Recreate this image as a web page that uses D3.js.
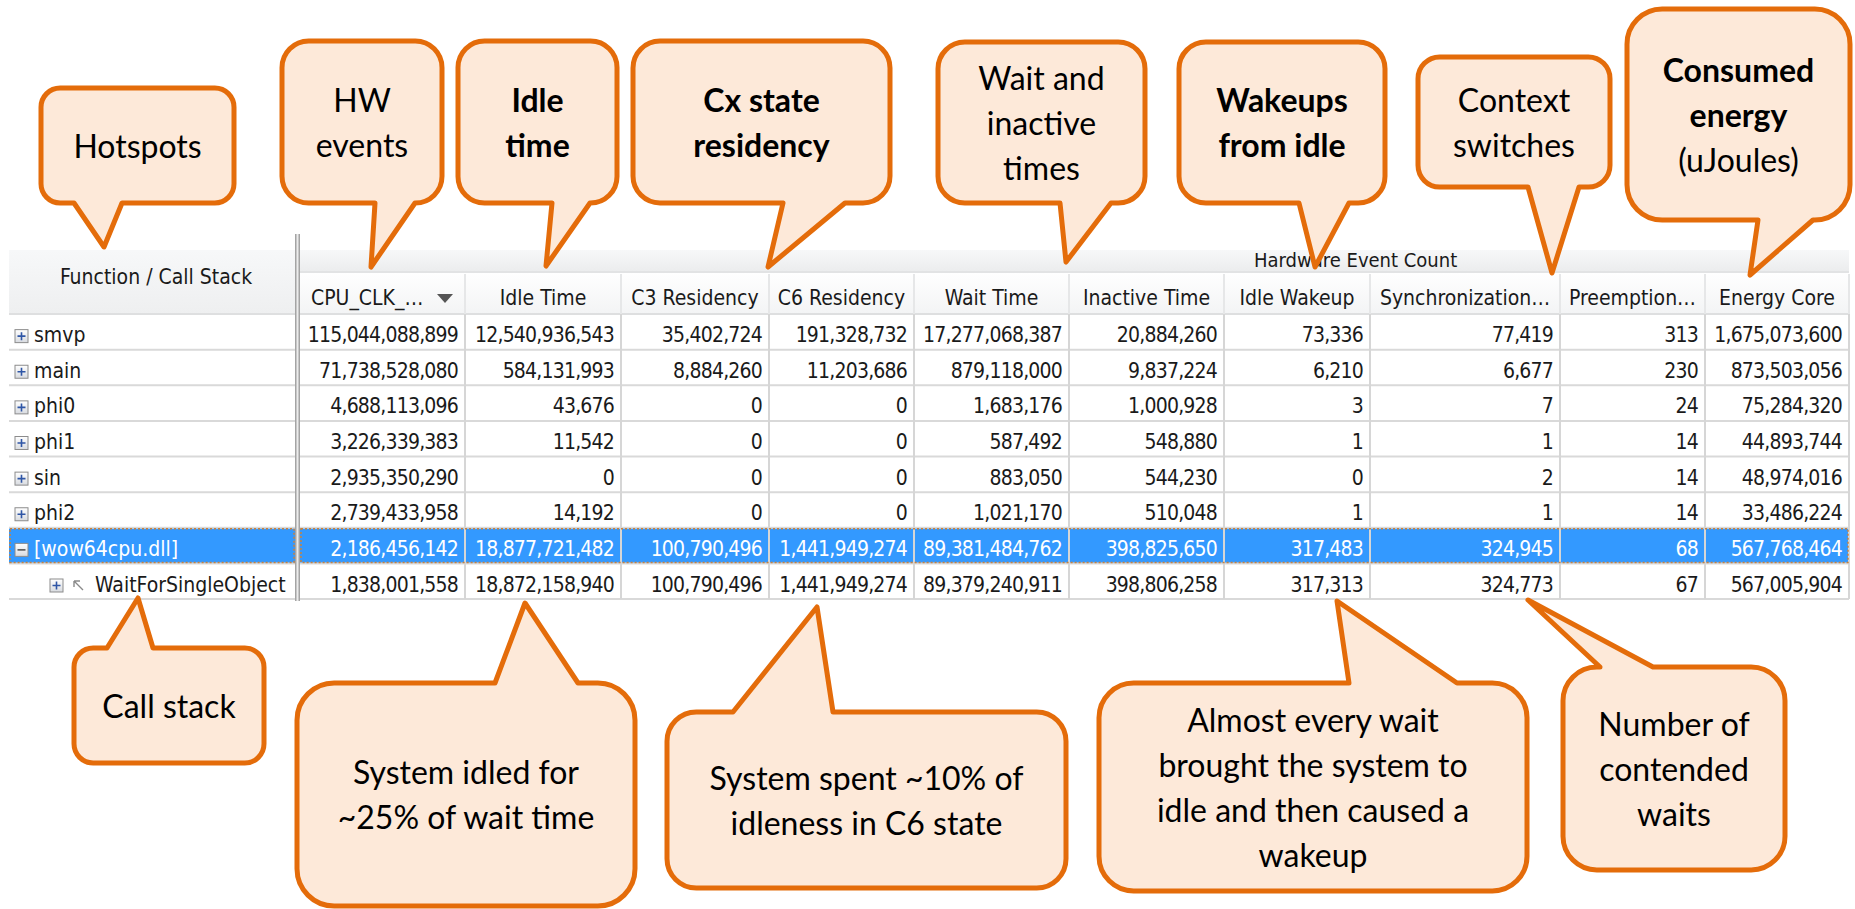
<!DOCTYPE html>
<html>
<head>
<meta charset="utf-8">
<script src="https://cdn.jsdelivr.net/npm/d3@7"></script>
<style>
    body { margin: 0; background: #fff; }
    svg { display: block; }
    .tbl { font-family: "DejaVu Sans Condensed", "DejaVu Sans", sans-serif; font-stretch: condensed; }
    .note { font-family: Lato, "Open Sans", sans-serif; }
</style>
</head>
<body>
<svg id="chart" width="1855" height="909"></svg>
<script>
// ---- data ----
const functions = ["smvp", "main", "phi0", "phi1", "sin", "phi2", "[wow64cpu.dll]", "WaitForSingleObject"];
const depth = [0, 0, 0, 0, 0, 0, 0, 1];
const selectedFunction = "[wow64cpu.dll]";
const columnLabels = ["CPU_CLK_…", "Idle Time", "C3 Residency", "C6 Residency", "Wait Time",
    "Inactive Time", "Idle Wakeup", "Synchronization…", "Preemption…", "Energy Core"];
const groupLabel = "Hardware Event Count";
const stackLabel = "Function / Call Stack";

const cpuClk = [115044088899, 71738528080, 4688113096, 3226339383, 2935350290, 2739433958, 2186456142, 1838001558];
const idleTime = [12540936543, 584131993, 43676, 11542, 0, 14192, 18877721482, 18872158940];
const c3Residency = [35402724, 8884260, 0, 0, 0, 0, 100790496, 100790496];
const c6Residency = [191328732, 11203686, 0, 0, 0, 0, 1441949274, 1441949274];
const waitTime = [17277068387, 879118000, 1683176, 587492, 883050, 1021170, 89381484762, 89379240911];
const inactiveTime = [20884260, 9837224, 1000928, 548880, 544230, 510048, 398825650, 398806258];
const idleWakeup = [73336, 6210, 3, 1, 0, 1, 317483, 317313];
const syncCount = [77419, 6677, 7, 1, 2, 1, 324945, 324773];
const preemption = [313, 230, 24, 14, 14, 14, 68, 67];
const energyCore = [1675073600, 873503056, 75284320, 44893744, 48974016, 33486224, 567768464, 567005904];

const seriesByColumn = [cpuClk, idleTime, c3Residency, c6Residency, waitTime,
    inactiveTime, idleWakeup, syncCount, preemption, energyCore];

// callout texts, "*" prefix = bold line
const calloutLines = [
    ["Hotspots"],
    ["HW", "events"],
    ["*Idle", "*time"],
    ["*Cx state", "*residency"],
    ["Wait and", "inactive", "times"],
    ["*Wakeups", "*from idle"],
    ["Context", "switches"],
    ["*Consumed", "*energy", "(uJoules)"],
    ["Call stack"],
    ["System idled for", "~25% of wait time"],
    ["System spent ~10% of", "idleness in C6 state"],
    ["Almost every wait", "brought the system to", "idle and then caused a", "wakeup"],
    ["Number of", "contended", "waits"]
];

// ---- layout ----
const tbl = {left: 9, labelRight: 295, gridLeft: 300, right: 1849, splitTop: 234,
    headTop: 250, bandBottom: 272, headBottom: 314, bottom: 599};
const colWidths = [165, 156, 148, 145, 155, 155, 146, 190, 145, 144];
const colEdges = [tbl.gridLeft].concat(Array.from(d3.cumsum(colWidths), d => tbl.gridLeft + d));

// callout boxes [x0, y0, x1, y1], tail base [bx0, bx1], tip [tx, ty]
const calloutShapes = [
    {box: [41, 88, 234, 203], base: [74, 122], tip: [104, 247]},
    {box: [282, 41, 442, 203], base: [375, 415], tip: [371, 267]},
    {box: [458, 41, 617, 203], base: [552, 590], tip: [546, 266]},
    {box: [633, 41, 890, 203], base: [783, 845], tip: [768, 267]},
    {box: [938, 42, 1145, 203], base: [1060, 1111], tip: [1066, 262]},
    {box: [1179, 42, 1385, 203], base: [1299, 1349], tip: [1315, 267]},
    {box: [1418, 57, 1610, 187], base: [1528, 1579], tip: [1552, 273]},
    {box: [1627, 9, 1850, 220], base: [1758, 1813], tip: [1750, 275]},
    {box: [74, 648, 264, 763], base: [107, 153], tip: [138, 598]},
    {box: [297, 683, 635, 906], base: [495, 578], tip: [525, 603]},
    {box: [667, 712, 1066, 888], base: [733, 833], tip: [817, 607]},
    {box: [1099, 683, 1527, 891], base: [1349, 1457], tip: [1337, 601]},
    {box: [1563, 667, 1785, 870], base: [1600, 1653], tip: [1528, 600]}
];

const svg = d3.select("#chart");
const fmt = d3.format(",");

const y = d3.scaleBand().domain(functions).range([tbl.headBottom, tbl.bottom]);
const x = d3.scaleOrdinal().domain(columnLabels).range(colEdges.slice(0, -1));
const colW = d3.scaleOrdinal().domain(columnLabels).range(colWidths);

// gradients
const defs = svg.append("defs");
function vGrad(id, c0, c1) {
    const g = defs.append("linearGradient").attr("id", id).attr("x1", 0).attr("y1", 0).attr("x2", 0).attr("y2", 1);
    g.append("stop").attr("offset", "0%").attr("stop-color", c0);
    g.append("stop").attr("offset", "100%").attr("stop-color", c1);
}
vGrad("bandGrad", "#f7f8f9", "#ebeced");
vGrad("headGrad", "#ffffff", "#f3f4f5");
vGrad("stackGrad", "#f7f8f9", "#eeeff0");
vGrad("boxGrad", "#ffffff", "#d8dbe0");

const table = svg.append("g").attr("class", "tbl");

// header backgrounds
table.append("rect")
    .attr("x", tbl.left).attr("y", tbl.headTop)
    .attr("width", tbl.labelRight - tbl.left).attr("height", tbl.headBottom - tbl.headTop)
    .attr("fill", "url(#stackGrad)");
table.append("rect")
    .attr("x", tbl.gridLeft).attr("y", tbl.headTop)
    .attr("width", tbl.right - tbl.gridLeft).attr("height", tbl.bandBottom - tbl.headTop)
    .attr("fill", "url(#bandGrad)");
table.append("rect")
    .attr("x", tbl.gridLeft).attr("y", tbl.bandBottom)
    .attr("width", tbl.right - tbl.gridLeft).attr("height", tbl.headBottom - tbl.bandBottom)
    .attr("fill", "url(#headGrad)");
table.append("line")
    .attr("x1", tbl.gridLeft).attr("x2", tbl.right)
    .attr("y1", tbl.bandBottom).attr("y2", tbl.bandBottom)
    .attr("stroke", "#e2e3e4").attr("stroke-width", 2);

// header texts
table.append("text")
    .attr("x", (tbl.left + tbl.labelRight) / 2 + 4).attr("y", 284)
    .attr("text-anchor", "middle").attr("font-size", 21).attr("fill", "#1a1a1a")
    .text(stackLabel);
table.append("text")
    .attr("x", x("Idle Wakeup") + 30).attr("y", 267)
    .attr("font-size", 20).attr("fill", "#1a1a1a")
    .text(groupLabel);

table.selectAll(".colhead")
    .data(columnLabels)
    .join("text")
    .attr("class", "colhead")
    .attr("x", (d, i) => i === 0 ? x(d) + 11 : x(d) + colW(d) / 2)
    .attr("y", tbl.headBottom - 9)
    .attr("text-anchor", (d, i) => i === 0 ? "start" : "middle")
    .attr("font-size", 21).attr("fill", "#1a1a1a")
    .text(d => d);

// sort arrow on first column
const ax = x(columnLabels[0]) + 137, ay = 294;
table.append("path")
    .attr("d", `M${ax},${ay}L${ax + 16},${ay}L${ax + 8},${ay + 9}Z`)
    .attr("fill", "#555");

// selected row highlight
const selY = y(selectedFunction);
table.append("rect")
    .attr("x", tbl.left).attr("y", selY).attr("width", tbl.labelRight - tbl.left).attr("height", y.bandwidth())
    .attr("fill", "#3399ff");
table.append("rect")
    .attr("x", tbl.gridLeft).attr("y", selY).attr("width", tbl.right - tbl.gridLeft).attr("height", y.bandwidth())
    .attr("fill", "#3399ff");

// grid lines
table.selectAll(".hline")
    .data(functions)
    .join("line")
    .attr("class", "hline")
    .attr("x1", tbl.left).attr("x2", tbl.right)
    .attr("y1", d => y(d) + y.bandwidth()).attr("y2", d => y(d) + y.bandwidth())
    .attr("stroke", "#d9d9d9").attr("stroke-width", 2);
table.append("line")
    .attr("x1", tbl.left).attr("x2", tbl.right)
    .attr("y1", tbl.headBottom).attr("y2", tbl.headBottom)
    .attr("stroke", "#dedfe0").attr("stroke-width", 2);

table.selectAll(".vhead")
    .data(colEdges.slice(1))
    .join("line")
    .attr("class", "vhead")
    .attr("x1", d => d).attr("x2", d => d)
    .attr("y1", tbl.bandBottom + 2).attr("y2", tbl.headBottom)
    .attr("stroke", "#e6e7e8").attr("stroke-width", 2);
table.selectAll(".vgrid")
    .data(colEdges.slice(1))
    .join("line")
    .attr("class", "vgrid")
    .attr("x1", d => d).attr("x2", d => d)
    .attr("y1", tbl.headBottom).attr("y2", tbl.bottom)
    .attr("stroke", "#d6d6d6").attr("stroke-width", 2);

// selection focus outline (dotted)
[[tbl.left, tbl.labelRight], [tbl.gridLeft, tbl.right]].forEach(([a, b]) => {
    table.append("rect")
        .attr("x", a + 1).attr("y", selY + 1).attr("width", b - a - 2).attr("height", y.bandwidth() - 2)
        .attr("fill", "none").attr("stroke", "#c9823e").attr("stroke-width", 1.5)
        .attr("stroke-dasharray", "2,2");
});

// splitter between label column and data columns
table.append("rect")
    .attr("x", tbl.labelRight).attr("y", tbl.splitTop).attr("width", tbl.gridLeft - tbl.labelRight)
    .attr("height", tbl.bottom + 2 - tbl.splitTop).attr("fill", "#ececec");
[tbl.labelRight + 0.75, tbl.gridLeft - 0.75].forEach(sx => {
    table.append("line")
        .attr("x1", sx).attr("x2", sx).attr("y1", tbl.splitTop).attr("y2", tbl.bottom + 2)
        .attr("stroke", "#a4a4a4").attr("stroke-width", 1.5);
});

// tree labels
const rows = table.selectAll(".row")
    .data(functions)
    .join("g")
    .attr("class", "row")
    .attr("transform", d => `translate(0,${y(d)})`);

const boxX = d => 15 + depth[functions.indexOf(d)] * 35;
const boxTop = y.bandwidth() - 20;
rows.append("rect")
    .attr("x", boxX).attr("y", boxTop)
    .attr("width", 13).attr("height", 13)
    .attr("fill", "url(#boxGrad)").attr("stroke", "#8c8c8c").attr("stroke-width", 1);
rows.append("path")
    .attr("d", d => {
        const cx = boxX(d) + 6.5, cy = boxTop + 6.5;
        const h = `M${cx - 4},${cy}H${cx + 4}`;
        return d === selectedFunction ? h : h + `M${cx},${cy - 4}V${cy + 4}`;
    })
    .attr("stroke", d => d === selectedFunction ? "#555" : "#2f56a6").attr("stroke-width", 1.6);

// small "go to caller" arrow in front of nested entries
rows.filter(d => depth[functions.indexOf(d)] > 0)
    .append("path")
    .attr("d", d => {
        const x0 = boxX(d) + 23, y0 = boxTop;
        return `M${x0 + 10},${y0 + 11}L${x0 + 1},${y0 + 2}M${x0 + 1},${y0 + 2}h6M${x0 + 1},${y0 + 2}v6`;
    })
    .attr("stroke", "#8a8a8a").attr("stroke-width", 1.4).attr("fill", "none");

rows.append("text")
    .attr("x", d => boxX(d) + (depth[functions.indexOf(d)] > 0 ? 45 : 19))
    .attr("y", y.bandwidth() - 7.5)
    .attr("font-size", 21)
    .attr("fill", d => d === selectedFunction ? "#fff" : "#1a1a1a")
    .text(d => d);

// values
columnLabels.forEach((col, c) => {
    table.selectAll(".val" + c)
        .data(seriesByColumn[c])
        .join("text")
        .attr("class", "val" + c)
        .attr("x", x(col) + colW(col) - 7)
        .attr("y", (v, r) => y(functions[r]) + y.bandwidth() - 7.5)
        .attr("text-anchor", "end")
        .attr("font-size", 21)
        .attr("letter-spacing", "-0.8px")
        .attr("fill", (v, r) => functions[r] === selectedFunction ? "#fff" : "#1a1a1a")
        .text(v => fmt(v));
});

// ---- callouts ----
function calloutPath(s) {
    const [x0, y0, x1, y1] = s.box;
    const [bx0, bx1] = s.base;
    const [tx, ty] = s.tip;
    const r = Math.min(x1 - x0, y1 - y0) / 6;
    const p = d3.path();
    const tailTop = ty < y0;
    p.moveTo(x0 + r, y0);
    if (tailTop) { p.lineTo(bx0, y0); p.lineTo(tx, ty); p.lineTo(bx1, y0); }
    p.lineTo(x1 - r, y0);
    p.arcTo(x1, y0, x1, y0 + r, r);
    p.lineTo(x1, y1 - r);
    p.arcTo(x1, y1, x1 - r, y1, r);
    if (!tailTop) { p.lineTo(bx1, y1); p.lineTo(tx, ty); p.lineTo(bx0, y1); }
    p.lineTo(x0 + r, y1);
    p.arcTo(x0, y1, x0, y1 - r, r);
    p.lineTo(x0, y0 + r);
    p.arcTo(x0, y0, x0 + r, y0, r);
    p.closePath();
    return p.toString();
}

const notes = svg.append("g").attr("class", "note")
    .selectAll("g")
    .data(calloutShapes)
    .join("g");

notes.append("path")
    .attr("d", calloutPath)
    .attr("fill", "#fde9d9")
    .attr("stroke", "#e46c0a")
    .attr("stroke-width", 5)
    .attr("stroke-linejoin", "round");

notes.each(function (s, i) {
    const lines = calloutLines[i];
    const cx = (s.box[0] + s.box[2]) / 2;
    const cy = (s.box[1] + s.box[3]) / 2;
    const lh = 45;
    d3.select(this).selectAll("text")
        .data(lines)
        .join("text")
        .attr("x", cx)
        .attr("y", (d, k) => cy + 12 + (k - (lines.length - 1) / 2) * lh)
        .attr("text-anchor", "middle")
        .attr("font-size", 32)
        .attr("font-weight", d => d.startsWith("*") ? "bold" : "normal")
        .attr("fill", "#000")
        .text(d => d.replace(/^\*/, ""));
});
</script>
</body>
</html>
